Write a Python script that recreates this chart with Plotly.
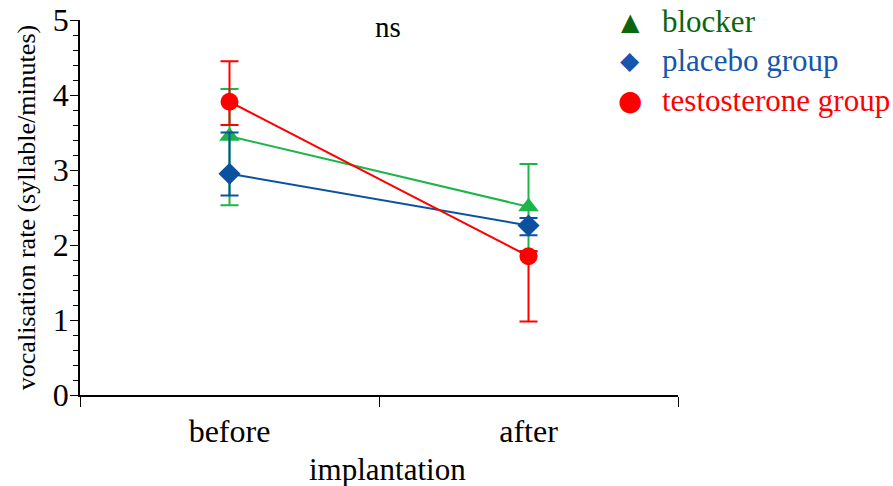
import plotly.graph_objects as go

# data
phases = ["before", "after"]
phase_pos = [0.5, 1.5]

blocker = [3.45, 2.51]
blocker_up = [0.63, 0.57]
blocker_down = [0.92, 0.60]

placebo = [2.95, 2.26]
placebo_up = [0.55, 0.10]
placebo_down = [0.29, 0.13]

testo = [3.91, 1.85]
testo_up = [0.54, 0.07]
testo_down = [0.31, 0.87]

FONT = "Liberation Serif, Times New Roman, serif"

W, H = 893, 486
L, R, T, B = 80, 215, 20, 91
PW, PH = W - L - R, H - T - B


def px(x, y):
    # page pixel -> paper fraction of the plot area
    return (x - L) / PW, (H - B - y) / PH


fig = go.Figure()


def add_series(y, up, down, color, symbol, size):
    fig.add_trace(go.Scatter(
        x=phase_pos, y=y, mode="lines+markers",
        line=dict(color=color, width=2),
        marker=dict(color=color, symbol=symbol, size=size),
        error_y=dict(type="data", symmetric=False, array=up, arrayminus=down,
                     color=color, thickness=2, width=9),
        showlegend=False, cliponaxis=False,
    ))


add_series(blocker, blocker_up, blocker_down, "#1DB54A", "triangle-up", 18)
add_series(placebo, placebo_up, placebo_down, "#0A52A0", "diamond", 17)
add_series(testo, testo_up, testo_down, "#FF0000", "circle", 18)

# hand-made legend so marker/text colours match the original
legend_items = [
    ("blocker", "#0B650B", "▲", 24),
    ("placebo group", "#1556AE", "◆", 25),
    ("testosterone group", "#FF0000", "●", 28),
]
for i, (name, color, glyph, gsize) in enumerate(legend_items):
    row = 22 + 39 * i
    gx, gy = px(630, row)
    tx, ty = px(660, row)
    fig.add_annotation(x=gx, y=gy, xref="paper", yref="paper", text=glyph,
                       showarrow=False, xanchor="center", yanchor="middle",
                       font=dict(size=gsize, color=color, family="DejaVu Sans"))
    fig.add_annotation(x=tx, y=ty, xref="paper", yref="paper", text=name,
                       showarrow=False, xanchor="left", yanchor="middle",
                       font=dict(size=31, color=color, family=FONT))

nx, ny = px(388, 27)
fig.add_annotation(x=nx, y=ny, xref="paper", yref="paper", text="ns", showarrow=False,
                   xanchor="center", yanchor="middle",
                   font=dict(size=29, color="black", family=FONT))

ix, iy = px(387, 469)
fig.add_annotation(x=ix, y=iy, xref="paper", yref="paper", text="implantation",
                   showarrow=False, xanchor="center", yanchor="middle",
                   font=dict(size=31, color="black", family=FONT))

fig.update_layout(
    width=W, height=H,
    margin=dict(l=L, r=R, t=T, b=B),
    paper_bgcolor="white", plot_bgcolor="white",
    font=dict(family=FONT, color="black"),
    showlegend=False,
)

fig.update_xaxes(
    range=[0, 2], tickvals=phase_pos, ticktext=phases, ticks="",
    showline=True, linecolor="black", linewidth=1.5, showgrid=False, zeroline=False,
    tickfont=dict(size=32), automargin=False, ticklabelstandoff=7,
    minor=dict(tickvals=[0, 1, 2], ticks="outside", ticklen=10, tickcolor="black", showgrid=False),
)
fig.update_yaxes(
    range=[0, 5], dtick=1, ticks="outside", ticklen=8, tickcolor="black",
    showline=True, linecolor="black", linewidth=1.5, showgrid=False, zeroline=False,
    tickfont=dict(size=32), automargin=False, ticklabelstandoff=-5,
    ticklabeloverflow="allow",
    title=dict(text="vocalisation rate (syllable/minutes)", font=dict(size=26), standoff=10),
    minor=dict(dtick=0.2, ticks="outside", ticklen=5, tickcolor="black", showgrid=False),
)

# drop the browser's default 8px body margin so the figure fills the window
fig.write_html("out.html", config={"displayModeBar": False},
               post_script="document.body.style.margin='0';")
